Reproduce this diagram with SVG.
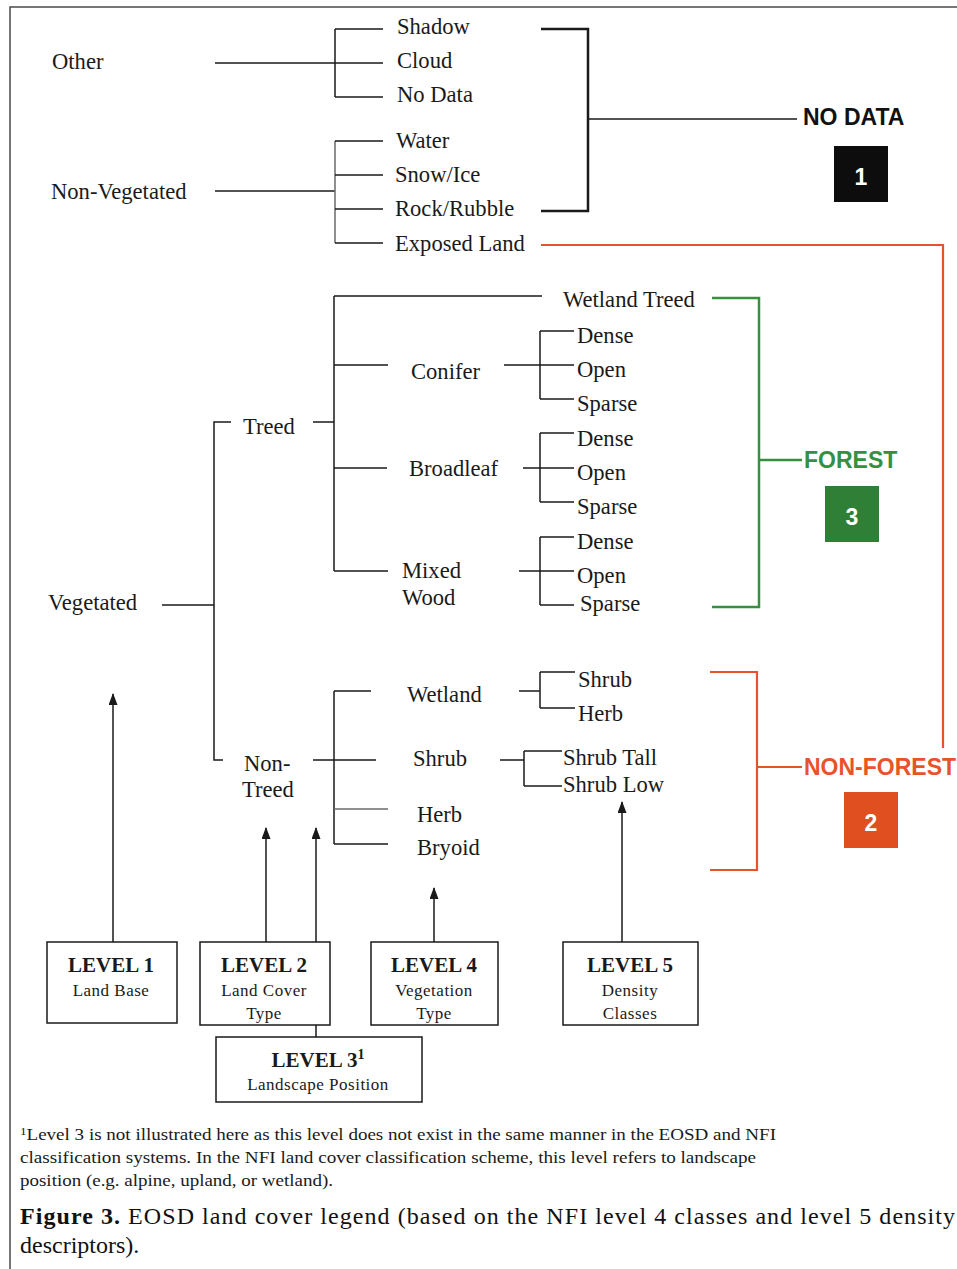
<svg xmlns="http://www.w3.org/2000/svg" width="957" height="1269" viewBox="0 0 957 1269">
<style>
.t{font-family:"Liberation Serif","Times New Roman",serif;font-size:22.6px;fill:#1a1a1a}
.s{font-family:"Liberation Sans",Arial,sans-serif;font-weight:bold;font-size:23px}
.lv{font-family:"Liberation Serif","Times New Roman",serif;font-weight:bold;font-size:21px;fill:#1a1a1a;text-anchor:middle}
.sub{font-family:"Liberation Serif","Times New Roman",serif;font-size:17px;fill:#1a1a1a;text-anchor:middle;letter-spacing:0.5px}
.fn{font-family:"Liberation Serif","Times New Roman",serif;font-size:16px;fill:#1a1a1a}
.cap{font-family:"Liberation Serif","Times New Roman",serif;font-size:24px;fill:#111}
.ln{stroke:#1a1a1a;stroke-width:1.5;fill:none}
.gr{stroke:#6a6a6a;stroke-width:1.5;fill:none}
.bk{stroke:#1a1a1a;stroke-width:2.5;fill:none}
.green{stroke:#34913f;stroke-width:2.5;fill:none}
.red{stroke:#e8532b;stroke-width:2.2;fill:none}
.box{fill:#fff;stroke:#1a1a1a;stroke-width:1.5}
.arr{stroke:#1a1a1a;stroke-width:1.5;fill:none;marker-end:url(#ah)}
</style>
<defs>
<marker id="ah" viewBox="0 0 12 9" refX="11" refY="4.5" markerWidth="12" markerHeight="9" markerUnits="userSpaceOnUse" orient="auto">
<path d="M0,0 L12,4.5 L0,9 z" fill="#1a1a1a"/>
</marker>
</defs>
<rect width="957" height="1269" fill="#fff"/>
<path d="M10,1269 V7 H957" stroke="#4a4a4a" stroke-width="1.5" fill="none"/>

<g id="connectors">
<path class="ln" d="M215,63 H383 M335,29 V97 M335,29 H383 M335,97 H383"/>
<path class="ln" d="M215,191 H335"/>
<path class="gr" d="M335,141 V243"/>
<path class="ln" d="M335,141 H383 M335,175 H383 M335,209 H383 M335,243 H383"/>
<path class="bk" d="M541,29 H588 V211 H541"/>
<path class="ln" d="M588,119 H797" stroke-width="2"/>
<path class="red" d="M541,245 H943 V748"/>
<path class="ln" d="M231,422 H214 V760 H223"/>
<path class="ln" d="M162,605 H214"/>
<path class="ln" d="M313,422 H334 M334,296 V571 M334,296 H542 M334,365 H388 M334,468 H387 M334,571 H388"/>
<path class="ln" d="M504,365 H574 M540,331 V399 M540,331 H574 M540,399 H574"/>
<path class="ln" d="M523,468 H574 M540,433 V502 M540,433 H574 M540,502 H574"/>
<path class="ln" d="M519,571 H574 M540,537 V605 M540,537 H574 M540,605 H574"/>
<path class="ln" d="M313,760 H376 M334,691 V844 M334,691 H371 M334,844 H388"/>
<path class="gr" d="M334,809 H388"/>
<path class="ln" d="M519,691 H540 M540,672 V708 M540,672 H575 M540,708 H575"/>
<path class="ln" d="M500,760 H524 M524,751 V786 M524,751 H562 M524,786 H562"/>
<path class="green" d="M712,298 H759 V607 H712 M759,460 H802"/>
<path class="red" d="M710,672 H757 V870 H710 M757,767 H802"/>
<path class="arr" d="M113,942 V694"/>
<path class="arr" d="M266,942 V828"/>
<path class="arr" d="M316,942 V828"/>
<path class="arr" d="M434,942 V888"/>
<path class="arr" d="M622,942 V802"/>
<path class="ln" d="M316,1025 V1037"/>
</g>

<g id="other"><text class="t" x="52" y="69">Other</text></g>
<g id="shadow"><text class="t" x="397" y="34">Shadow</text></g>
<g id="cloud"><text class="t" x="397" y="68">Cloud</text></g>
<g id="nodata"><text class="t" x="397" y="102">No Data</text></g>
<g id="nonveg"><text class="t" x="51" y="199">Non-Vegetated</text></g>
<g id="water"><text class="t" x="396" y="148">Water</text></g>
<g id="snowice"><text class="t" x="395" y="182">Snow/Ice</text></g>
<g id="rock"><text class="t" x="395" y="216">Rock/Rubble</text></g>
<g id="exposed"><text class="t" x="395" y="251">Exposed Land</text></g>

<g id="nodata-class">
<text class="s" x="803" y="125" fill="#111">NO DATA</text>
<rect x="834" y="146" width="54" height="56" fill="#0d0d0d"/>
<text class="s" x="861" y="185" fill="#fff" font-size="30" text-anchor="middle">1</text>
</g>

<g id="vegetated"><text class="t" x="48" y="610">Vegetated</text></g>
<g id="treed"><text class="t" x="243" y="434">Treed</text></g>
<g id="wetland-treed"><text class="t" x="563" y="307">Wetland Treed</text></g>
<g id="conifer">
<text class="t" x="411" y="379">Conifer</text>
<text class="t" x="577" y="343">Dense</text>
<text class="t" x="577" y="377">Open</text>
<text class="t" x="577" y="411">Sparse</text>
</g>
<g id="broadleaf">
<text class="t" x="409" y="476">Broadleaf</text>
<text class="t" x="577" y="446">Dense</text>
<text class="t" x="577" y="480">Open</text>
<text class="t" x="577" y="514">Sparse</text>
</g>
<g id="mixedwood">
<text class="t" x="402" y="578">Mixed</text>
<text class="t" x="402" y="605">Wood</text>
<text class="t" x="577" y="549">Dense</text>
<text class="t" x="577" y="583">Open</text>
<text class="t" x="580" y="611">Sparse</text>
</g>

<g id="forest-class">
<text class="s" x="804" y="468" fill="#34913f">FOREST</text>
<rect x="825" y="486" width="54" height="56" fill="#2f7f36"/>
<text class="s" x="852" y="525" fill="#fff" font-size="30" text-anchor="middle">3</text>
</g>

<g id="nontreed"><text class="t" x="244" y="771">Non-</text><text class="t" x="242" y="797">Treed</text></g>
<g id="wetland">
<text class="t" x="407" y="702">Wetland</text>
<text class="t" x="578" y="687">Shrub</text>
<text class="t" x="578" y="721">Herb</text>
</g>
<g id="shrub">
<text class="t" x="413" y="766">Shrub</text>
<text class="t" x="563" y="765">Shrub Tall</text>
<text class="t" x="563" y="792">Shrub Low</text>
</g>
<g id="herb"><text class="t" x="417" y="822">Herb</text></g>
<g id="bryoid"><text class="t" x="417" y="855">Bryoid</text></g>

<g id="nonforest-class">
<text class="s" x="804" y="775" fill="#e8532b">NON-FOREST</text>
<rect x="844" y="792" width="54" height="56" fill="#e04f1f"/>
<text class="s" x="871" y="831" fill="#fff" font-size="30" text-anchor="middle">2</text>
</g>

<g id="level1">
<rect class="box" x="47" y="942" width="130" height="81"/>
<text class="lv" x="111" y="972">LEVEL 1</text>
<text class="sub" x="111" y="996">Land Base</text>
</g>
<g id="level2">
<rect class="box" x="200" y="942" width="130" height="83"/>
<text class="lv" x="264" y="972">LEVEL 2</text>
<text class="sub" x="264" y="996">Land Cover</text>
<text class="sub" x="264" y="1019">Type</text>
</g>
<g id="level4">
<rect class="box" x="371" y="942" width="127" height="83"/>
<text class="lv" x="434" y="972">LEVEL 4</text>
<text class="sub" x="434" y="996">Vegetation</text>
<text class="sub" x="434" y="1019">Type</text>
</g>
<g id="level5">
<rect class="box" x="563" y="942" width="135" height="83"/>
<text class="lv" x="630" y="972">LEVEL 5</text>
<text class="sub" x="630" y="996">Density</text>
<text class="sub" x="630" y="1019">Classes</text>
</g>
<g id="level3">
<rect class="box" x="216" y="1037" width="206" height="65"/>
<text class="lv" x="318" y="1067">LEVEL 3<tspan font-size="14" dy="-8">1</tspan></text>
<text class="sub" x="318" y="1090">Landscape Position</text>
</g>

<g id="footnote">
<text class="fn" x="20" y="1140" textLength="756" lengthAdjust="spacingAndGlyphs"><tspan font-size="11" dy="-5">1</tspan><tspan dy="5">Level 3 is not illustrated here as this level does not exist in the same manner in the EOSD and NFI</tspan></text>
<text class="fn" x="20" y="1163" textLength="736" lengthAdjust="spacingAndGlyphs">classification systems. In the NFI land cover classification scheme, this level refers to landscape</text>
<text class="fn" x="20" y="1186" textLength="313" lengthAdjust="spacingAndGlyphs">position (e.g. alpine, upland, or wetland).</text>
</g>
<g id="caption">
<text class="cap" x="20" y="1224" textLength="935" lengthAdjust="spacing"><tspan font-weight="bold">Figure 3.</tspan> EOSD land cover legend (based on the NFI level 4 classes and level 5 density</text>
<text class="cap" x="20" y="1253">descriptors).</text>
</g>
</svg>
